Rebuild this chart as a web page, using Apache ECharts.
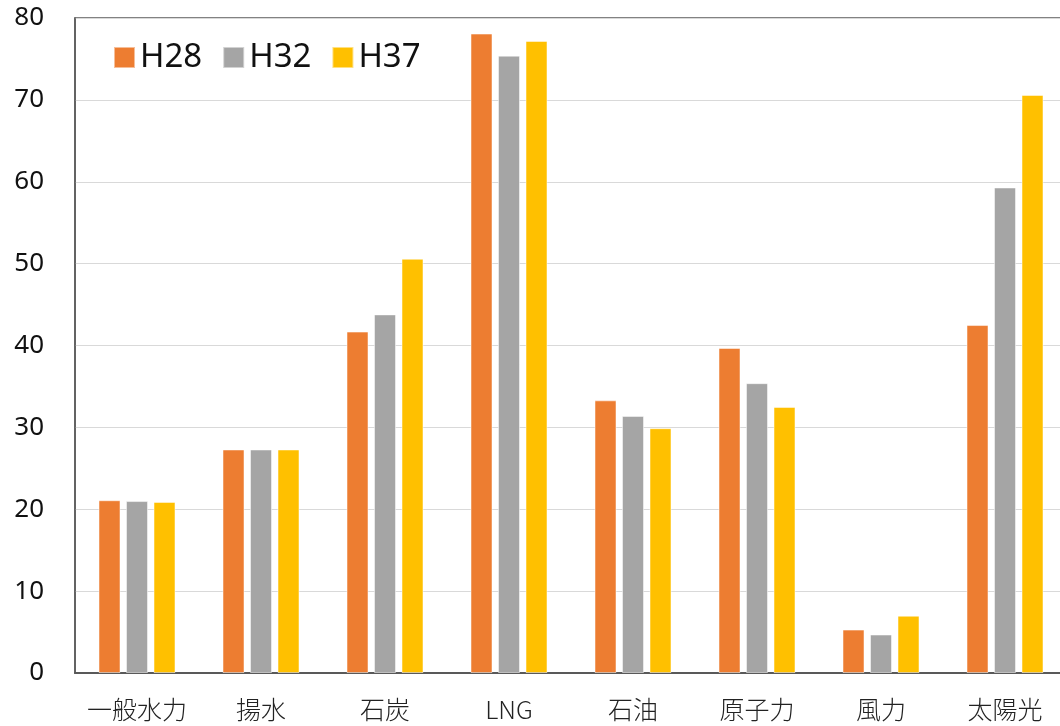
<!DOCTYPE html>
<html>
<head>
<meta charset="utf-8">
<script src="https://cdn.jsdelivr.net/npm/echarts@6/dist/echarts.min.js"></script>
<style>
  html, body { margin: 0; padding: 0; background: #fff; overflow: hidden; }
  #chart { width: 1067px; height: 726px; }
</style>
</head>
<body>
<div id="chart"></div>
<script>
var categories = ['一般水力', '揚水', '石炭', 'LNG', '石油', '原子力', '風力', '太陽光'];
var h28 = [21.1, 27.3, 41.7, 78.1, 33.3, 39.7, 5.3, 42.5];
var h32 = [21.0, 27.3, 43.8, 75.4, 31.4, 35.4, 4.7, 59.3];
var h37 = [20.9, 27.3, 50.6, 77.2, 29.9, 32.5, 7.0, 70.6];
var yTicks = [0, 10, 20, 30, 40, 50, 60, 70, 80];

// chart is a little wider than the window: the plot runs off the right edge
var myChart = echarts.init(document.getElementById('chart'));

function bar(name, data, color) {
	return {
		name: name,
		type: 'bar',
		data: data,
		barWidth: 22,
		barGap: '25%',
		itemStyle: {
			color: color,
			borderColor: 'rgba(255,255,255,0.5)',
			borderWidth: 1
		}
	};
}

var option = {
	animation: false,
	textStyle: { fontFamily: '"Noto Sans", "Noto Sans CJK JP", sans-serif' },
	grid: {
		left: 75,
		right: 0,
		top: 18,
		bottom: 53,
		show: true,
		borderColor: '#595959',
		borderWidth: 1.5
	},
	legend: {
		left: 108,
		top: 36,
		itemWidth: 21,
		itemHeight: 21,
		itemGap: 20,
		icon: 'rect',
		textStyle: { fontSize: 33, color: '#111', fontFamily: '"Noto Sans", sans-serif' },
		data: ['H28', 'H32', 'H37']
	},
	xAxis: {
		type: 'category',
		data: categories,
		axisTick: { show: false },
		axisLine: { lineStyle: { color: '#595959', width: 2 } },
		axisLabel: {
			interval: 0,
			margin: 24,
			fontSize: 25,
			color: '#222',
			fontFamily: '"Noto Sans CJK JP", sans-serif',
			fontWeight: 300
		}
	},
	yAxis: {
		type: 'value',
		min: yTicks[0],
		max: yTicks[yTicks.length - 1],
		interval: 10,
		axisLine: { show: true, lineStyle: { color: '#595959', width: 1.5 } },
		axisTick: { show: false },
		axisLabel: {
			margin: 31,
			fontSize: 26,
			color: '#111'
		},
		splitLine: { lineStyle: { color: '#D9D9D9', width: 1 } }
	},
	series: [
		bar('H28', h28, '#ED7D31'),
		bar('H32', h32, '#A5A5A5'),
		bar('H37', h37, '#FFC000')
	]
};

myChart.setOption(option);
</script>
</body>
</html>
